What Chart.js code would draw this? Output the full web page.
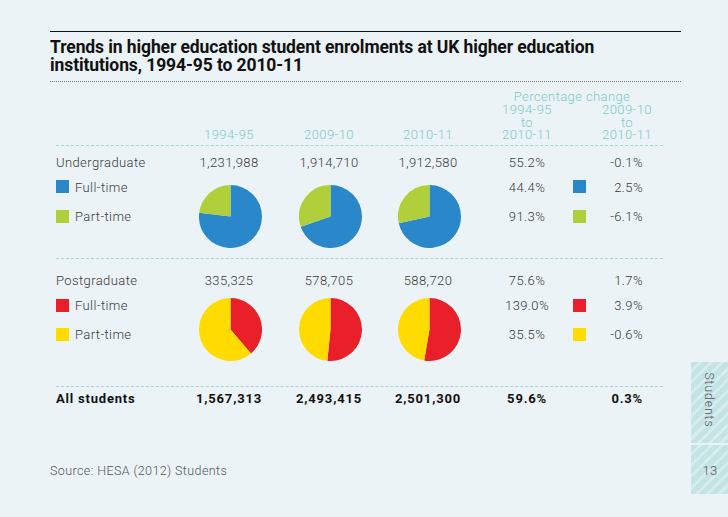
<!DOCTYPE html>
<html lang="en">
  <head>
    <meta charset="UTF-8" />
    <script src="https://cdn.jsdelivr.net/npm/chart.js"></script>
    <title>Trends in higher education student enrolments</title>
    <style>
      html, body { margin: 0; padding: 0; }
      body {
        width: 728px; height: 517px; position: relative; overflow: hidden;
        background: #ebf3f6; font-family: Roboto, "Noto Sans", sans-serif; color: #3a3a3a;
      }
      .t { position: absolute; white-space: nowrap; line-height: 16px; transform: translateY(-50%); font-size: 13px; letter-spacing: 0.4px; font-weight: 300; }
      .c { transform: translate(-50%, -50%); text-align: center; }
      .r { transform: translate(-100%, -50%); text-align: right; }
      .teal { color: #7ccbc6; line-height: 12px; }
      .stack { position: absolute; transform: translateX(-50%); text-align: center; white-space: pre;
        font-size: 13px; line-height: 12.5px; letter-spacing: 0.4px; font-weight: 300; color: #7ccbc6; }
      .b { font-weight: 700; color: #111; letter-spacing: 0.8px; }
      .hr { position: absolute; left: 56px; width: 607px; height: 0; border-top: 1px dashed #a9d6d9; }
      .sq { position: absolute; width: 13px; height: 13px; }
      .pie { position: absolute; width: 63px; height: 63px; }
      #title { position: absolute; left: 50px; top: 38px; font-weight: 700; font-size: 17.5px; line-height: 18px; color: #111; letter-spacing: -0.1px; }
      .tab { position: absolute; left: 691px; width: 37px;
        background: repeating-linear-gradient(135deg, #c3e3e5 0 5px, #d6edee 5px 8px); }
    </style>
  </head>
  <body>
    <div style="position:absolute;left:50px;top:31px;width:631px;border-top:1.5px solid #111"></div>
    <div id="title">Trends in higher education student enrolments at UK higher education<br>institutions, 1994-95 to 2010-11</div>
    <div style="position:absolute;left:50px;top:81px;width:631px;border-top:1px dotted #777"></div>

    <div class="hr" style="top:145px"></div>
    <div class="hr" style="top:258px"></div>
    <div class="hr" style="top:386px"></div>

    <div class="tab" style="top:362px;height:81px"></div>
    <div class="tab" style="top:445px;height:49px"></div>
    <div class="t" style="left:709px;top:400px;transform:translate(-50%,-50%) rotate(90deg);font-size:12px;letter-spacing:1px;color:#555">Students</div>
    <div class="t c" style="left:710px;top:471px;font-size:13px;color:#555">13</div>

    <div class="t" style="left:50px;top:471px;font-size:12.5px;color:#555">Source: HESA (2012) Students</div>

    <div id="grid"></div>

    <script>
      // column headings
      const years = ["1994-95", "2009-10", "2010-11"];
      const changeHeads = ["1994-95", "2009-10"];

      // enrolments (full-time / part-time split estimated from the pies)
      const ugFullTime = [947150, 1334325, 1367685];
      const ugPartTime = [284838, 580385, 544895];
      const pgFullTime = [129810, 298605, 310250];
      const pgPartTime = [205515, 280100, 278470];

      // percentage change columns: UG, UG FT, UG PT, PG, PG FT, PG PT, All
      const changeLong = [55.2, 44.4, 91.3, 75.6, 139.0, 35.5, 59.6];
      const changeShort = [-0.1, 2.5, -6.1, 1.7, 3.9, -0.6, 0.3];

      const ugColors = ["#2a87c9", "#b1cf3b"];
      const pgColors = ["#e91f2a", "#ffdb00"];

      const colX = [229, 329, 428];
      const pctX = [527, 643];
      const grid = document.getElementById("grid");

      function txt(s, x, y, cls) {
        const d = document.createElement("div");
        d.className = "t " + (cls || "");
        d.style.left = x + "px";
        d.style.top = y + "px";
        d.textContent = s;
        grid.appendChild(d);
        return d;
      }
      function sq(x, y, col) {
        const d = document.createElement("div");
        d.className = "sq";
        d.style.left = x + "px";
        d.style.top = y + "px";
        d.style.background = col;
        grid.appendChild(d);
      }
      const fmt = (n) => n.toLocaleString("en-GB");
      const pct = (n) => n.toFixed(1) + "%";

      // headers
      txt("Percentage change", 572, 97, "c teal");
      changeHeads.forEach((h, i) => {
        const d = document.createElement("div");
        d.className = "stack";
        d.style.left = (i == 0 ? 527 : 627) + "px";
        d.style.top = "104px";
        d.textContent = h + "\nto\n2010-11";
        grid.appendChild(d);
      });
      years.forEach((y, i) => txt(y, colX[i], 135, "c teal"));

      // row labels
      txt("Undergraduate", 56, 163);
      sq(56, 180, ugColors[0]); txt("Full-time", 75, 188);
      sq(56, 210, ugColors[1]); txt("Part-time", 75, 217);
      txt("Postgraduate", 56, 281);
      sq(56, 299, pgColors[0]); txt("Full-time", 75, 306);
      sq(56, 328, pgColors[1]); txt("Part-time", 75, 335);
      txt("All students", 56, 399, "b");

      // totals
      const ugTot = ugFullTime.map((v, i) => v + ugPartTime[i]);
      const pgTot = pgFullTime.map((v, i) => v + pgPartTime[i]);
      const allTot = ugTot.map((v, i) => v + pgTot[i]);
      ugTot.forEach((v, i) => txt(fmt(v), colX[i], 163, "c"));
      pgTot.forEach((v, i) => txt(fmt(v), colX[i], 281, "c"));
      allTot.forEach((v, i) => txt(fmt(v), colX[i], 399, "c b"));

      // percentage change
      const rowY = [163, 188, 217, 281, 306, 335, 399];
      rowY.forEach((y, i) => {
        const bold = i == 6 ? " b" : "";
        txt(pct(changeLong[i]), pctX[0], y, "c" + bold);
        txt(pct(changeShort[i]), pctX[1], y, "r" + bold);
      });
      sq(573, 180, ugColors[0]);
      sq(573, 210, ugColors[1]);
      sq(573, 299, pgColors[0]);
      sq(573, 328, pgColors[1]);

      // pies
      function pie(x, y, data, colors) {
        const box = document.createElement("div");
        box.className = "pie";
        box.style.left = (x - 31.5) + "px";
        box.style.top = (y - 31.5) + "px";
        const cv = document.createElement("canvas");
        box.appendChild(cv);
        grid.appendChild(box);
        new Chart(cv, {
          type: "pie",
          data: {
            labels: ["Full-time", "Part-time"],
            datasets: [{ data: data, backgroundColor: colors, borderWidth: 0 }],
          },
          options: {
            responsive: true,
            maintainAspectRatio: false,
            animation: false,
            layout: { padding: 0 },
            plugins: { legend: { display: false }, tooltip: { enabled: false } },
          },
        });
      }
      years.forEach((y, i) => {
        pie(colX[i] + 1, 216, [ugFullTime[i], ugPartTime[i]], ugColors);
        pie(colX[i] + 1, 329, [pgFullTime[i], pgPartTime[i]], pgColors);
      });
    </script>
  </body>
</html>
